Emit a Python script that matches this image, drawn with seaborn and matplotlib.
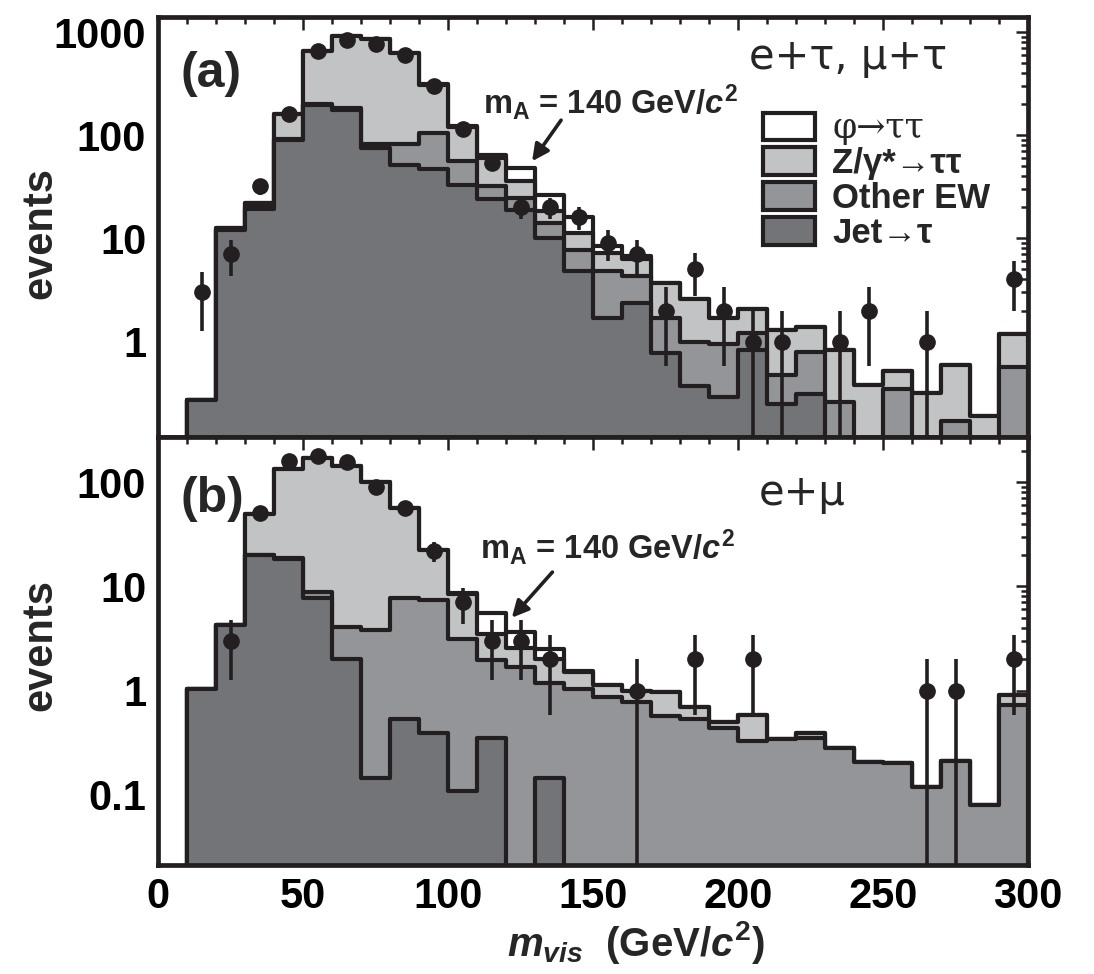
import numpy as np
import pandas as pd
import matplotlib
matplotlib.use("Agg")
import matplotlib.pyplot as plt
import seaborn as sns
from matplotlib import font_manager
from matplotlib.patches import Patch
from matplotlib.ticker import LogLocator, NullFormatter, MultipleLocator

# ---------------- data (10 GeV bins from 0 to 300) ----------------
bin_edges = list(range(0, 310, 10))

# panel (a): e+tau, mu+tau
jet_a = [0, 0.27, 12, 19.5, 90, 195, 175, 75, 52, 47, 33, 24, 19, 10, 4.8, 1.7, 2.36, 0.77,
         0.37, 0.29, 0.83, 0.25, 0.31, 0, 0, 0, 0, 0, 0, 0]
ew_a = [0, 0, 0.2, 0.5, 2, 5, 8, 7, 31, 58, 23, 8, 5.7, 4, 3.0, 3.1, 2.0, 0.91,
        0.63, 0.65, 0.37, 0.23, 0.49, 0.26, 0, 0.35, 0, 0.17, 0, 0.57]
z_a = [0, 0, 0.3, 2.0, 70, 460, 727, 768, 547, 205, 64, 28, 11.3, 4.3, 3.5, 2.4, 2.0, 2.0,
       1.6, 0.76, 0.88, 0.82, 0.6, 0.57, 0.38, 0.17, 0.32, 0.43, 0.19, 0.61]
phi_a = [0, 0, 0, 0, 0, 0, 0, 0, 0, 1, 3, 5, 12, 8.2, 4.7, 1.2, 0.4, 0,
         0, 0, 0, 0, 0, 0, 0, 0, 0, 0, 0, 0]
data_a = [0, 3, 7, 32, 160, 650, 830, 770, 600, 300, 115, 54, 20, 20, 16, 9, 7, 2,
          5, 2, 1, 1, 0, 1, 2, 0, 1, 0, 0, 4]

# panel (b): e+mu
jet_b = [0, 1.04, 4.25, 20, 18.3, 7.7, 2.0, 0.145, 0.53, 0.395, 0.108, 0.354, 0, 0.145, 0, 0, 0, 0,
         0, 0, 0, 0, 0, 0, 0, 0, 0, 0, 0, 0]
ew_b = [0, 0, 0, 0, 0.5, 1.2, 2.1, 3.65, 7.2, 7.0, 3.05, 1.6, 1.68, 1.05, 1.04, 0.86, 0.77, 0.57,
        0.53, 0.44, 0.33, 0.34, 0.35, 0.28, 0.206, 0.20, 0.119, 0.21, 0.080, 0.73]
z_b = [0, 0, 0, 29, 115, 161, 140, 96, 49, 15, 5.2, 1.55, 0.9, 0.8, 0.46, 0.28, 0.22, 0.39,
       0.16, 0.06, 0.25, 0, 0.04, 0, 0, 0, 0, 0, 0, 0.17]
phi_b = [0, 0, 0, 0, 0, 0, 0, 0, 0, 0, 0.3, 2.0, 1.06, 0.5, 0.05, 0, 0, 0,
         0, 0, 0, 0, 0, 0, 0, 0, 0, 0, 0, 0]
data_b = [0, 0, 3, 50, 160, 180, 155, 90, 57, 22, 7, 3, 3, 2, 0, 0, 1, 0,
          2, 0, 2, 0, 0, 0, 0, 0, 1, 1, 0, 2]

legend_labels = ["φ→ττ", "Z/γ*→ττ", "Other EW", "Jet→τ"]
yticks_a = [1, 10, 100, 1000]
yticks_b = [0.1, 1, 10, 100]
xticks = [0, 50, 100, 150, 200, 250, 300]

# ---------------- style ----------------
sns.set_theme(style="white")
names = {f.name for f in font_manager.fontManager.ttflist}
SANS = "Liberation Sans" if "Liberation Sans" in names else "DejaVu Sans"

plt.rcParams["font.family"] = [SANS, "DejaVu Sans"]
plt.rcParams["font.weight"] = "bold"
plt.rcParams["mathtext.fontset"] = "custom"
plt.rcParams["mathtext.rm"] = f"{SANS}:bold"
plt.rcParams["mathtext.bf"] = f"{SANS}:bold"
plt.rcParams["mathtext.it"] = f"{SANS}:italic:bold"

EDGE = "#231f20"
C_PHI = "#ffffff"
C_Z = "#c2c3c5"
C_EW = "#939598"
C_JET = "#737478"
LW = 3.0

fig = plt.figure(figsize=(10.94, 9.74), dpi=100)
L, W = 158 / 1094, 870 / 1094
axA = fig.add_axes([L, 1 - 437 / 974, W, 420 / 974])
axB = fig.add_axes([L, 1 - 865 / 974, W, 428 / 974])

centers = [e + 5 for e in bin_edges[:-1]]


def draw_stack(ax, jet, ew, z, phi):
    jet, ew, z, phi = (np.asarray(a, float) for a in (jet, ew, z, phi))
    layers = [(jet + ew + z + phi, C_PHI), (jet + ew + z, C_Z), (jet + ew, C_EW), (jet, C_JET)]
    for vals, col in layers:
        df = pd.DataFrame({"m": centers, "w": vals})
        sns.histplot(data=df, x="m", weights="w", bins=bin_edges, element="step", fill=True,
                     color=col, alpha=1, edgecolor=EDGE, linewidth=LW, ax=ax, legend=False)


def draw_data(ax, data):
    d = np.asarray(data, float)
    c = np.asarray(centers, float)
    m = d > 0
    ax.errorbar(c[m], d[m], yerr=np.sqrt(d[m]), fmt="o", color=EDGE, ms=11,
                elinewidth=2.6, capsize=0, zorder=5)


draw_stack(axA, jet_a, ew_a, z_a, phi_a)
draw_data(axA, data_a)
draw_stack(axB, jet_b, ew_b, z_b, phi_b)
draw_data(axB, data_b)

for ax, ylim, yt in ((axA, (0.119, 1400), yticks_a), (axB, (0.0212, 271), yticks_b)):
    ax.set_yscale("log")
    ax.set_xlim(0, 300)
    ax.set_ylim(*ylim)
    ax.set_yticks(yt)
    ax.set_yticklabels([f"{v:g}" for v in yt])
    ax.yaxis.set_minor_locator(LogLocator(base=10, subs=np.arange(2, 10) * 1.0, numticks=30))
    ax.yaxis.set_minor_formatter(NullFormatter())
    ax.set_xticks(xticks)
    ax.set_xticklabels([str(v) for v in xticks])
    ax.xaxis.set_minor_locator(MultipleLocator(10))
    ax.tick_params(which="both", direction="in", top=True, right=True, width=1.8, color=EDGE,
                   labelsize=30, labelcolor="black")
    ax.tick_params(which="major", length=9)
    ax.tick_params(which="minor", length=5)
    ax.tick_params(axis="y", pad=8.5)
    ax.tick_params(axis="x", pad=8.5)
    for s in ax.spines.values():
        s.set_linewidth(3.4)
        s.set_color(EDGE)
    ax.set_xlabel("")
    ax.set_ylabel("")
    ax.set_facecolor("white")

axA.tick_params(labelbottom=False)

# ---------------- texts ----------------
axA.text(7.6, 296, "(a)", fontsize=36, fontweight="bold", family=SANS, ha="left", va="baseline")
axB.text(7.6, 52, "(b)", fontsize=36, fontweight="bold", family=SANS, ha="left", va="baseline")
axA.text(238, 443, "e+τ, μ+τ", fontsize=30, fontweight="normal", family="DejaVu Sans",
         ha="center", va="baseline")
axB.text(222, 60, "e+μ", fontsize=30, fontweight="normal", family="DejaVu Sans",
         ha="center", va="baseline")

mA = r"$\mathrm{m}_{\mathrm{A}}$ = 140 GeV/$c^{2}$"
axA.text(112, 161, mA, fontsize=23.5, fontweight="bold", family=SANS, ha="left", va="baseline")
axB.text(111, 18.6, mA, fontsize=23.5, fontweight="bold", family=SANS, ha="left", va="baseline")
arrow = dict(arrowstyle="-|>,head_length=0.5,head_width=0.25", lw=2.6, color=EDGE,
             shrinkA=0, shrinkB=0, mutation_scale=20)
axA.annotate("", xy=(129, 56), xytext=(139, 140), arrowprops=arrow)
axB.annotate("", xy=(122, 5.0), xytext=(136, 13.7), arrowprops=arrow)

handles = [Patch(facecolor=c, edgecolor=EDGE, linewidth=3) for c in (C_PHI, C_Z, C_EW, C_JET)]
leg = axA.legend(handles, legend_labels, loc="upper left", bbox_to_anchor=(0.695, 0.775),
                 frameon=False, handlelength=1.5, handleheight=0.86, handletextpad=0.5,
                 labelspacing=0.05, borderpad=0, borderaxespad=0,
                 prop=dict(family=[SANS, "DejaVu Sans"], weight="bold", size=25))
leg.get_texts()[0].set_fontweight("normal")
leg.get_texts()[0].set_family(["DejaVu Serif"])

fig.text(40 / 1094, 1 - 233 / 974, "events", rotation=90, fontsize=30, fontweight="bold",
         family=SANS, ha="center", va="center")
fig.text(40 / 1094, 1 - 645 / 974, "events", rotation=90, fontsize=30, fontweight="bold",
         family=SANS, ha="center", va="center")
fig.text(636 / 1094, 1 - 943 / 974, r"$m_{vis}$  (GeV/$c^{2}$)", fontsize=29, fontweight="bold",
         family=SANS, ha="center", va="center")

fig.savefig("out.png", dpi=100, facecolor="white")
